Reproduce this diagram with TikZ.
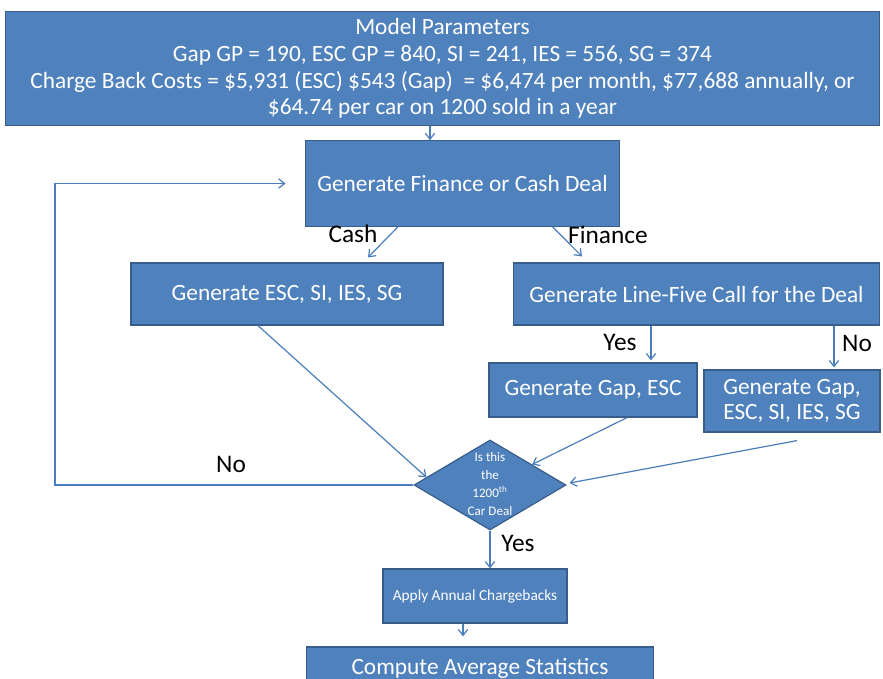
\documentclass[tikz,border=0pt]{standalone}
\usepackage{fontspec}
\setmainfont{Carlito}
\usetikzlibrary{arrows.meta,shapes.geometric,calc}
\definecolor{boxfill}{HTML}{4F81BD}
\definecolor{boxline}{HTML}{385D8A}
\definecolor{arrowc}{HTML}{4A7EBB}
\begin{document}
\begin{tikzpicture}[x=0.75pt,y=-0.75pt,
  box/.style={draw=boxline,fill=boxfill,line width=0.9pt,text=white,inner sep=0pt,align=center,font=\fontsize{17.5}{20}\selectfont},
  dia/.style={draw=boxline,fill=boxfill,line width=0.9pt,diamond,inner sep=0pt,minimum width=114pt,minimum height=67.5pt,aspect=1.69},
  diatext/.style={text=white,inner sep=0pt,align=center,font=\fontsize{9.8}{13.5}\selectfont},
  arr/.style={draw=arrowc,line width=0.9pt,-{Straight Barb[length=4.5pt,width=7pt]}},
  lbl/.style={font=\fontsize{19}{20}\selectfont,text=black,inner sep=0pt}]
\clip (0,0) rectangle (883,679);
\fill[white] (0,0) rectangle (883,679);
% nodes
\node[box,minimum width=656pt,minimum height=85pt] (top) at (442.5,68.5)
  {Model Parameters\\Gap GP = 190, ESC GP = 840, SI = 241, IES = 556, SG = 374\\Charge Back Costs = \$5,931 (ESC) \$543 (Gap) \ = \$6,474 per month, \$77,688 annually, or\\\$64.74 per car on 1200 sold in a year};
\node[box,minimum width=236pt,minimum height=64pt] (fin) at (462.5,183.5) {Generate Finance or Cash Deal};
\node[box,minimum width=234pt,minimum height=46.5pt] (esc) at (287,294) {Generate ESC, SI, IES, SG};
\node[box,minimum width=275pt,minimum height=46.5pt] (l5) at (696.5,294) {Generate Line-Five Call for the Deal};
\node[box,minimum width=156pt,minimum height=40.5pt] (gapesc) at (593,390) {Generate Gap, ESC};
\node[box,minimum width=132pt,minimum height=46.5pt,font=\fontsize{17.5}{19}\selectfont] (gapall) at (792,401) {Generate Gap,\\ESC, SI, IES, SG};
\node[dia] (dia) at (490,485) {};
\node[diatext] (diat) at (490,484) {Is this\\the\\1200\textsuperscript{th}\\Car Deal};
\node[box,minimum width=138pt,minimum height=40.5pt,font=\fontsize{11.5}{13}\selectfont] (apply) at (475,596) {Apply Annual Chargebacks};
\node[box,minimum width=260pt,minimum height=36pt] (comp) at (480,671) {\raisebox{6.5pt}{Compute Average Statistics}};
% labels
\node[lbl] (lcash) at (353,234) {Cash};
\node[lbl] (lfin) at (608,235) {Finance};
\node[lbl] (lyes1) at (620,342) {Yes};
\node[lbl] (lno1) at (857,343) {No};
\node[lbl] (lno2) at (231,464) {No};
\node[lbl] (lyes2) at (518,543) {Yes};
% connectors
\coordinate (c430) at (430,0);
\draw[arr] (c430 |- top.south) -- (c430 |- fin.north);
\draw[arr] ($(fin.south)+(-64.5,0)$) -- ($(esc.north)+(81,-5)$);
\draw[arr] ($(fin.south)+(90,0)$) -- ($(l5.north)+(-114.5,-6)$);
\draw[arr] ($(l5.south)+(-45.5,0)$) -- ($(gapesc.north)+(58,-2)$);
\draw[arr] ($(l5.south)+(137.5,0)$) -- ($(gapall.north)+(42,-2)$);
\draw[arr] ($(esc.south)+(-29,0)$) -- ($(dia.west)!0.17!(dia.north)$);
\draw[arr] ($(gapesc.south)+(34,0)$) -- ($(dia.north)!0.55!(dia.east)$);
\draw[arr] ($(gapall.south)+(5,8)$) -- ($(dia.east)+(3,-2)$);
\coordinate (loopc) at (55,485);
\draw[arr] (dia.west) -- (loopc) |- ($(fin.west)+(-19,0)$);
\draw[arr] (dia.south) -- (dia.south |- apply.north);
\draw[arr,shorten >=7.5pt] ($(apply.south)+(-12,0)$) -- ($(comp.north)+(-17,0)$);
\end{tikzpicture}
\end{document}
